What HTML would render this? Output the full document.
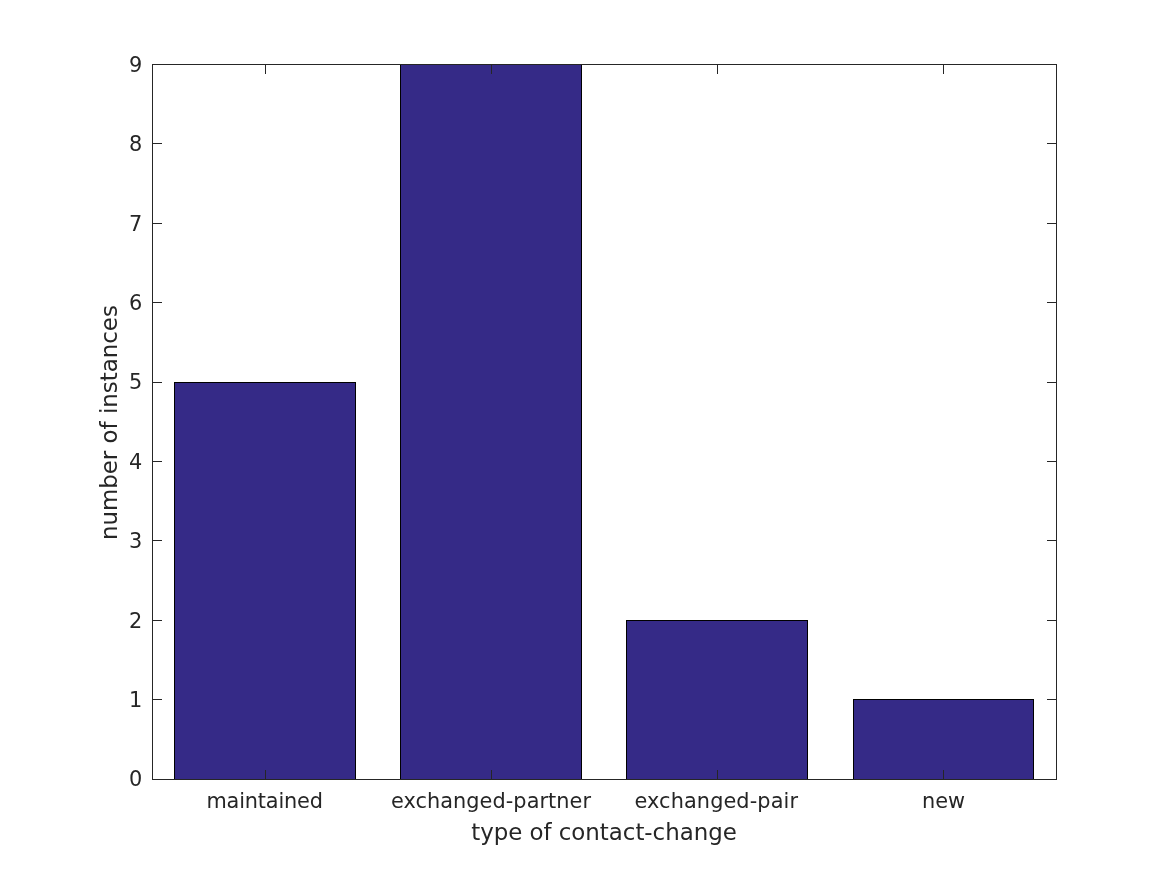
<!DOCTYPE html>
<html lang="en">
<head>
<meta charset="utf-8">
<title>type of contact-change</title>
<style>
html,body{margin:0;padding:0;background:#fff;}
body{width:1167px;height:875px;position:relative;overflow:hidden;font-family:"DejaVu Sans","Liberation Sans",sans-serif;color:#262626;}
.l{position:absolute;background:#262626;}
.bar{position:absolute;background:#352a87;border:1px solid #000;box-sizing:border-box;}
.t{position:absolute;white-space:nowrap;font-size:20.83px;line-height:24px;height:24px;}
.yt{text-align:right;width:60px;}
.lab{font-size:22.92px;line-height:28px;height:28px;}
</style>
</head>
<body>
<div class="bar" style="left:174px;top:382px;width:182px;height:398px"></div>
<div class="bar" style="left:400px;top:64px;width:182px;height:716px"></div>
<div class="bar" style="left:626px;top:620px;width:182px;height:160px"></div>
<div class="bar" style="left:853px;top:699px;width:181px;height:81px"></div>
<div class="l" style="left:152px;top:64px;width:905px;height:1px"></div>
<div class="l" style="left:152px;top:779px;width:905px;height:1px"></div>
<div class="l" style="left:152px;top:64px;width:1px;height:716px"></div>
<div class="l" style="left:1056px;top:64px;width:1px;height:716px"></div>
<div class="l" style="left:265px;top:770px;width:1px;height:9px"></div>
<div class="l" style="left:265px;top:65px;width:1px;height:9px"></div>
<div class="t" style="left:206.397px;top:789px;letter-spacing:-0.155px">maintained</div>
<div class="l" style="left:491px;top:770px;width:1px;height:9px"></div>
<div class="l" style="left:491px;top:65px;width:1px;height:9px"></div>
<div class="t" style="left:390.897px;top:789px;letter-spacing:0.066px">exchanged-partner</div>
<div class="l" style="left:717px;top:770px;width:1px;height:9px"></div>
<div class="l" style="left:717px;top:65px;width:1px;height:9px"></div>
<div class="t" style="left:634.527px;top:789px;letter-spacing:0.1px">exchanged-pair</div>
<div class="l" style="left:943px;top:770px;width:1px;height:9px"></div>
<div class="l" style="left:943px;top:65px;width:1px;height:9px"></div>
<div class="t" style="left:921.972px;top:789px;letter-spacing:0px">new</div>
<div class="t yt" style="left:82.300px;top:767.000px">0</div>
<div class="l" style="left:153px;top:699px;width:9px;height:1px"></div>
<div class="l" style="left:1047px;top:699px;width:9px;height:1px"></div>
<div class="t yt" style="left:82.300px;top:688.000px">1</div>
<div class="l" style="left:153px;top:620px;width:9px;height:1px"></div>
<div class="l" style="left:1047px;top:620px;width:9px;height:1px"></div>
<div class="t yt" style="left:82.300px;top:609.000px">2</div>
<div class="l" style="left:153px;top:540px;width:9px;height:1px"></div>
<div class="l" style="left:1047px;top:540px;width:9px;height:1px"></div>
<div class="t yt" style="left:82.300px;top:529.000px">3</div>
<div class="l" style="left:153px;top:461px;width:9px;height:1px"></div>
<div class="l" style="left:1047px;top:461px;width:9px;height:1px"></div>
<div class="t yt" style="left:82.300px;top:450.000px">4</div>
<div class="l" style="left:153px;top:382px;width:9px;height:1px"></div>
<div class="l" style="left:1047px;top:382px;width:9px;height:1px"></div>
<div class="t yt" style="left:82.300px;top:370.000px">5</div>
<div class="l" style="left:153px;top:302px;width:9px;height:1px"></div>
<div class="l" style="left:1047px;top:302px;width:9px;height:1px"></div>
<div class="t yt" style="left:82.300px;top:291.000px">6</div>
<div class="l" style="left:153px;top:223px;width:9px;height:1px"></div>
<div class="l" style="left:1047px;top:223px;width:9px;height:1px"></div>
<div class="t yt" style="left:82.300px;top:212.000px">7</div>
<div class="l" style="left:153px;top:143px;width:9px;height:1px"></div>
<div class="l" style="left:1047px;top:143px;width:9px;height:1px"></div>
<div class="t yt" style="left:82.300px;top:132.000px">8</div>
<div class="t yt" style="left:82.300px;top:53.000px">9</div>
<div class="t lab" style="left:471.172px;top:818.000px;letter-spacing:-0.024px">type of contact-change</div>
<div class="t lab" style="left:-7.578px;width:235.156px;top:407.500px;letter-spacing:0.0px;transform:translate(-1.0px,0.55px) rotate(-90deg);transform-origin:50% 50%">number of instances</div>
</body>
</html>
